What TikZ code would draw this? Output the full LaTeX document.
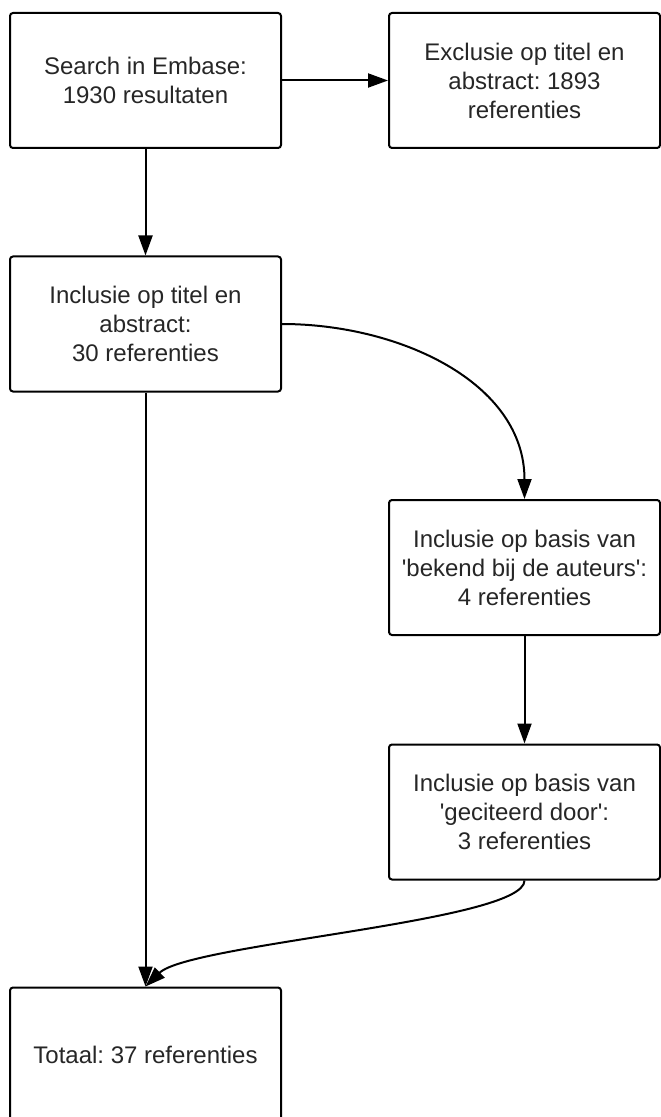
\documentclass[tikz,border=0pt]{standalone}
\usepackage{fontspec}
\setmainfont{Liberation Sans}
\usepackage{tikz}
\usetikzlibrary{arrows.meta,positioning}
\frenchspacing

\tikzset{
	stepbox/.style={draw, rectangle, rounded corners=1.5pt, line width=1pt, minimum width=135.5pt, minimum height=67.5pt, align=center, font=\fontsize{12}{14.5}\selectfont, text=black!85},
	conn/.style={line width=1pt, -{Triangle[length=10pt,width=7pt]}}
}

\begin{document}
\begin{tikzpicture}[x=0.5pt, y=-0.5pt]
				\useasboundingbox (0,0) rectangle (660,1117);

				% Boxes
				\node[stepbox] (search) at (145.5,80.5) {Search in Embase:\\1930 resultaten};
				\node[stepbox] (exclusie) at (524.5,80.5) {Exclusie op titel en\\abstract: 1893\\referenties};
				\node[stepbox] (titel) at (145.5,324) {Inclusie op titel en\\abstract:\\30 referenties};
				\node[stepbox] (bekend) at (524.5,567.5) {Inclusie op basis van\\\textquotesingle bekend bij de auteurs\textquotesingle:\\4 referenties};
				\node[stepbox] (geciteerd) at (524.5,812) {Inclusie op basis van\\\textquotesingle geciteerd door\textquotesingle:\\3 referenties};
				\node[stepbox] (totaal) at (145.5,1055) {Totaal: 37 referenties};

				% Connections
				\draw[conn] (search) -- (exclusie);
				\draw[conn] (search) -- (titel);
				\draw[conn] (titel.east) to[out=0, in=90] (bekend.north);
				\draw[conn] (bekend) -- (geciteerd);
				\draw[conn] (titel) -- (totaal);
				\draw[conn] (geciteerd.south) .. controls +(0,41) and +(44,-43) .. (totaal.north);
			\end{tikzpicture}
\end{document}
